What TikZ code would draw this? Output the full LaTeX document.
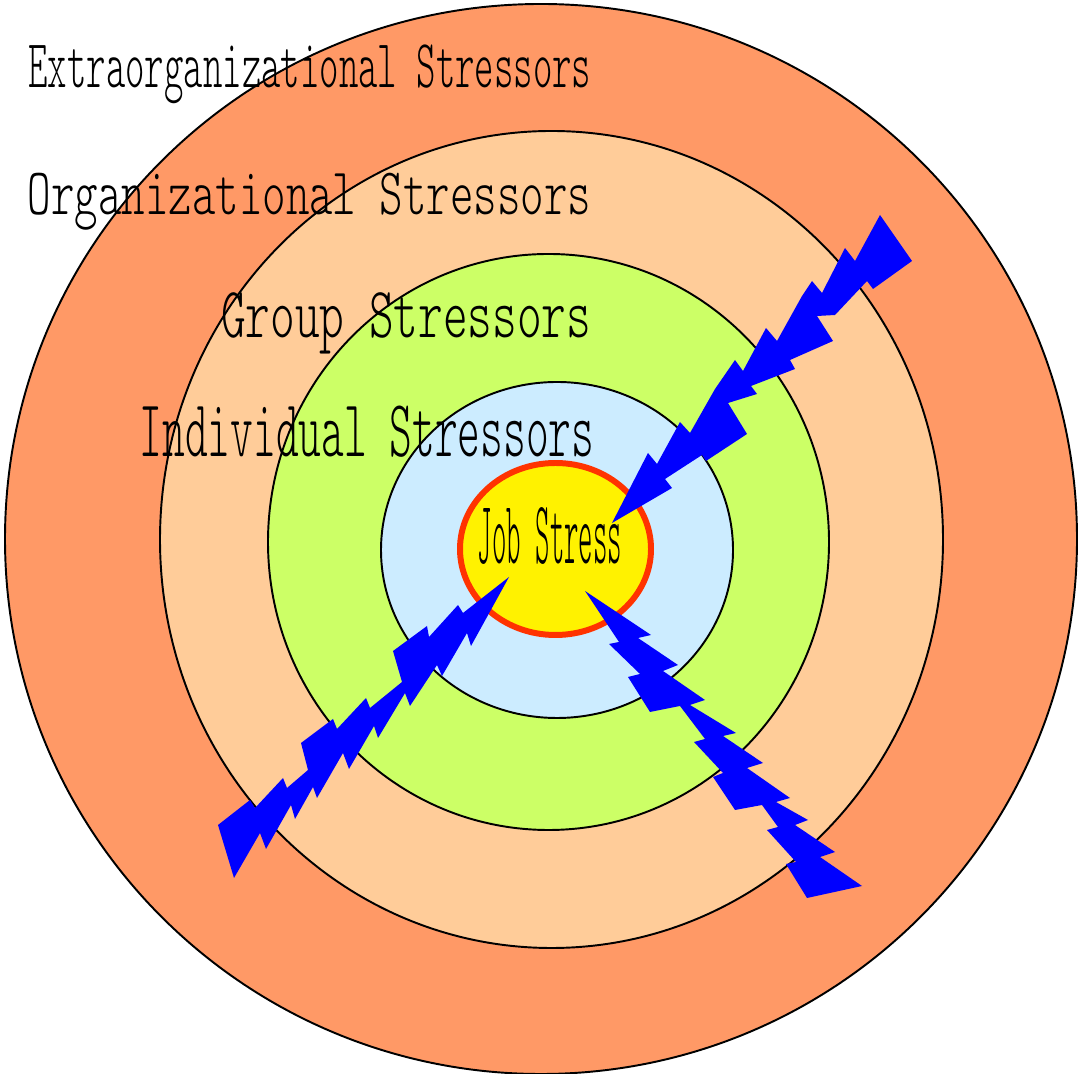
\documentclass[tikz,border=0pt]{standalone}
\usepackage{fontspec}
\usepackage{graphicx}
\usepackage{tikz}
\newfontfamily\lightmono{lmmonolt10-regular.otf}
\definecolor{extracol}{RGB}{255,153,102}
\definecolor{orgcol}{RGB}{255,204,153}
\definecolor{groupcol}{RGB}{204,255,102}
\definecolor{indivcol}{RGB}{204,236,255}
\definecolor{jobedge}{RGB}{255,51,0}
\newcommand{\squeezed}[2]{\scalebox{#1}[1]{#2}}

\begin{document}
\begin{tikzpicture}[x=0.01cm, y=-0.01cm,
  ring/.style={draw=black, line width=0.55pt},
  bolt/.style={fill=blue},
  lbl/.style={anchor=base east, inner sep=0pt}]
\useasboundingbox (0,0) rectangle (1079,1074);
\filldraw[ring, fill=extracol] (541,539) ellipse [x radius=536, y radius=535];
\filldraw[ring, fill=orgcol] (551.5,539.5) ellipse [x radius=391.5, y radius=408.5];
\filldraw[ring, fill=groupcol] (548.5,542) ellipse [x radius=280.5, y radius=288];
\filldraw[ring, fill=indivcol] (557,550) ellipse [x radius=176, y radius=168];
\filldraw[draw=jobedge, line width=1.7pt, fill=yellow] (555.5,549) ellipse [x radius=95.5, y radius=86];

\node[lbl, font=\lightmono\fontsize{19.5pt}{22pt}\selectfont] (extra) at (592,88) {\squeezed{0.539}{Extraorganizational Stressors}};
\node[lbl, font=\lightmono\fontsize{18.9pt}{22pt}\selectfont] (org) at (592,215) {\squeezed{0.673}{Organizational Stressors}};
\node[lbl, font=\lightmono\fontsize{20.5pt}{23pt}\selectfont] (group) at (592,338) {\squeezed{0.652}{Group Stressors}};
\node[lbl, font=\lightmono\fontsize{23.1pt}{26pt}\selectfont] (indiv) at (595,457) {\squeezed{0.533}{Individual Stressors}};
\node[anchor=base, inner sep=0pt, font=\lightmono\fontsize{25.6pt}{28pt}\selectfont] (job) at (550,564) {\squeezed{0.305}{Job Stress}};

\fill[bolt] (612,523) -- (648,453) -- (657,464) -- (680,422) -- (690,433) -- (715,389) -- (735,360) -- (743,371) -- (766,328) -- (777,341) -- (802,296) -- (812,281) -- (822,293) -- (845,248) -- (855,261) -- (880,215) -- (912,261) -- (873,289) -- (867,281) -- (835,315) -- (817,316) -- (833,341) -- (790,360) -- (795,369) -- (751,386) -- (757,394) -- (728,403) -- (747,434) -- (706,461) -- (702,455) -- (665,479) -- (672,488) -- cycle;
\fill[bolt] (509,577) -- (463,613) -- (458,605) -- (429,637) -- (427,626) -- (393,651) -- (402,682) -- (370,708) -- (366,698) -- (337,729) -- (333,719) -- (301,743) -- (308,770) -- (287,788) -- (283,778) -- (255,808) -- (250,800) -- (218,825) -- (234,878) -- (260,833) -- (266,849) -- (291,805) -- (295,819) -- (313,787) -- (317,798) -- (343,753) -- (349,769) -- (374,726) -- (378,738) -- (405,693) -- (410,706) -- (437,665) -- (442,676) -- (467,633) -- (471,646) -- cycle;
\fill[bolt] (585,591) -- (651,635) -- (638,638) -- (678,665) -- (663,671) -- (705,700) -- (690,705) -- (736,733) -- (723,736) -- (763,763) -- (747,768) -- (790,798) -- (776,802) -- (808,820) -- (795,825) -- (835,852) -- (820,857) -- (862,886) -- (807,898) -- (786,864) -- (796,862) -- (767,830) -- (778,827) -- (762,805) -- (735,810) -- (713,777) -- (723,773) -- (694,742) -- (705,739) -- (680,706) -- (650,712) -- (628,677) -- (640,674) -- (609,644) -- (619,642) -- cycle;
\end{tikzpicture}
\end{document}
